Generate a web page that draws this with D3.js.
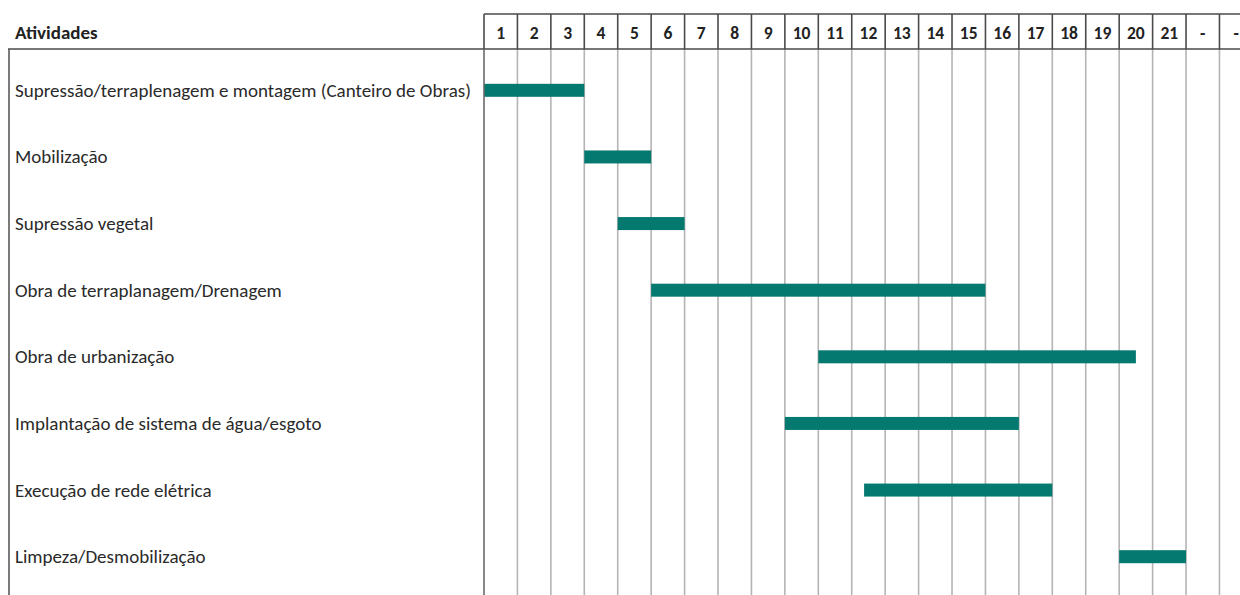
<!DOCTYPE html>
<html>
<head>
<meta charset="utf-8">
<script src="https://cdn.jsdelivr.net/npm/d3@7/dist/d3.min.js"></script>
<style>
  html, body { margin: 0; padding: 0; background: #fff; }
  svg { display: block; }
  text { font-family: Carlito, "Liberation Sans Narrow", "Open Sans", sans-serif; }
</style>
</head>
<body>
<svg id="chart" width="1240" height="595"></svg>
<script>
// Cronograma de atividades (períodos 1–21 e dois períodos a definir)
const periodLabels = ["1","2","3","4","5","6","7","8","9","10","11","12","13","14","15","16","17","18","19","20","21","-","-"];

const activities = [
  "Supressão/terraplenagem e montagem (Canteiro de Obras)",
  "Mobilização",
  "Supressão vegetal",
  "Obra de terraplanagem/Drenagem",
  "Obra de urbanização",
  "Implantação de sistema de água/esgoto",
  "Execução de rede elétrica",
  "Limpeza/Desmobilização"
];

// início e fim de cada atividade, em períodos decorridos
const startPeriod = [0, 3, 4, 5, 10, 9, 11.37, 19];
const endPeriod   = [3, 5, 6, 15, 19.5, 16, 17, 21];

const svg = d3.select("#chart");

const x = d3.scaleLinear()
  .domain([0, periodLabels.length])
  .range([484, 484 + periodLabels.length * 33.43]);

const y = d3.scaleBand()
  .domain(activities)
  .range([57, 590]);

const headerTop = 14, headerBottom = 49;
const barH = 13;

// linhas verticais da grade
svg.append("g")
  .selectAll("line")
  .data(d3.range(1, periodLabels.length + 1))
  .join("line")
  .attr("x1", d => x(d)).attr("x2", d => x(d))
  .attr("y1", headerBottom).attr("y2", 595)
  .attr("stroke", "#b4b4b4")
  .attr("stroke-width", 1.6);

// barras das atividades
svg.append("g")
  .selectAll("rect")
  .data(activities)
  .join("rect")
  .attr("x", (d, i) => x(startPeriod[i]))
  .attr("width", (d, i) => x(endPeriod[i]) - x(startPeriod[i]))
  .attr("y", d => y(d) + y.bandwidth() / 2 - barH / 2)
  .attr("height", barH)
  .attr("fill", "#04796f");

// cabeçalho dos períodos
const header = svg.append("g");
header.selectAll("line.sep")
  .data(d3.range(0, periodLabels.length + 1))
  .join("line")
  .attr("class", "sep")
  .attr("x1", d => x(d)).attr("x2", d => x(d))
  .attr("y1", headerTop).attr("y2", headerBottom)
  .attr("stroke", "#4a4a4a")
  .attr("stroke-width", 1.6);
header.append("line")
  .attr("x1", x(0)).attr("x2", 1240)
  .attr("y1", headerTop).attr("y2", headerTop)
  .attr("stroke", "#4a4a4a").attr("stroke-width", 1.6);
header.selectAll("text")
  .data(periodLabels)
  .join("text")
  .attr("x", (d, i) => x(i + 0.5))
  .attr("y", 39)
  .attr("text-anchor", "middle")
  .attr("font-size", 17.5)
  .attr("font-weight", "bold")
  .attr("fill", "#222")
  .text(d => d);

// borda superior e esquerda da tabela
svg.append("line")
  .attr("x1", 8).attr("x2", 1240)
  .attr("y1", headerBottom).attr("y2", headerBottom)
  .attr("stroke", "#4a4a4a").attr("stroke-width", 1.6);
svg.append("line")
  .attr("x1", 9).attr("x2", 9)
  .attr("y1", headerBottom).attr("y2", 595)
  .attr("stroke", "#5a5a5a").attr("stroke-width", 1.6);
svg.append("line")
  .attr("x1", x(0)).attr("x2", x(0))
  .attr("y1", headerBottom).attr("y2", 595)
  .attr("stroke", "#6a6a6a").attr("stroke-width", 1.6);

svg.append("text")
  .attr("x", 15).attr("y", 39)
  .attr("font-size", 19)
  .attr("font-weight", "bold")
  .attr("fill", "#222")
  .text("Atividades");

// nomes das atividades
svg.append("g")
  .selectAll("text")
  .data(activities)
  .join("text")
  .attr("x", 15)
  .attr("y", d => y(d) + y.bandwidth() / 2 + 6.5)
  .attr("font-size", 19)
  .attr("fill", "#2a2a2a")
  .text(d => d);
</script>
</body>
</html>
